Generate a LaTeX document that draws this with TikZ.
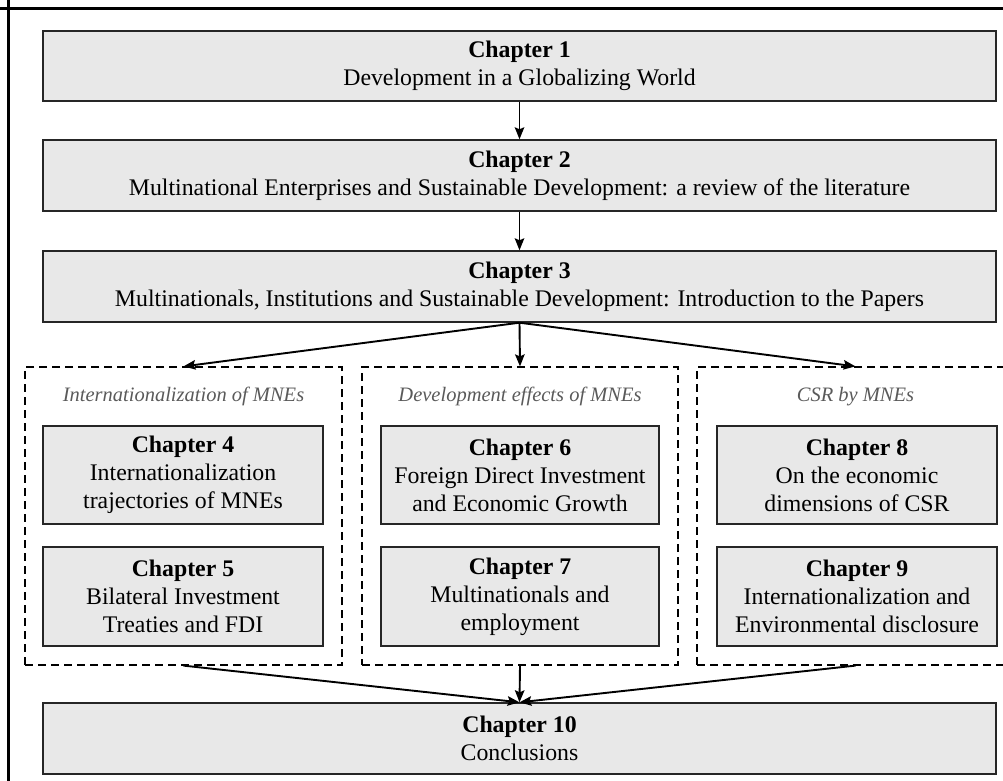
\documentclass[tikz,border=0pt]{standalone}
\usepackage{fontspec}
\setmainfont{Liberation Serif}
\usetikzlibrary{arrows.meta,shadows}
\definecolor{boxfill}{HTML}{E8E8E8}
\definecolor{boxline}{HTML}{262626}
\definecolor{grouptitle}{HTML}{5A5A5A}
\tikzset{
  chapbox/.style={draw=boxline, line width=1.4pt, fill=boxfill, align=center,
    inner sep=0pt, font=\fontsize{23.8}{28}\selectfont,
    drop shadow={shadow xshift=1.3pt, shadow yshift=-1.3pt, fill=black!45, opacity=1}},
  groupbox/.style={draw=black, line width=1.2pt, dash pattern=on 8pt off 5pt, inner sep=0pt},
  grouptitle/.style={text=grouptitle, anchor=base, inner sep=0pt,
    font=\fontsize{20.5}{24}\selectfont\itshape},
  arr/.style={line width=1.9pt, -{Stealth[length=12pt,width=9.5pt,inset=2pt]}},
  frame/.style={line width=3.6pt, black}
}
\begin{document}
\begin{tikzpicture}[x=1pt, y=-1pt]
\useasboundingbox (0,0) rectangle (1003,781);

% outer frame (left and top edges)
\draw[frame] (8.6,0) -- (8.6,781);
\draw[frame] (0,8.6) -- (1003,8.6);

% dashed groups
\node[groupbox, minimum width=317pt, minimum height=298pt] (g1) at (183.5,516) {};
\node[groupbox, minimum width=316pt, minimum height=298pt] (g2) at (520,516) {};
\node[groupbox, minimum width=317pt, minimum height=298pt] (g3) at (855.5,516) {};

\node[grouptitle] (t1) at (183.5,401) {Internationalization of MNEs};
\node[grouptitle] (t2) at (520,401) {Development effects of MNEs};
\node[grouptitle] (t3) at (855.5,401) {CSR by MNEs};

% main chain
\node[chapbox, minimum width=953pt, minimum height=70pt] (c1) at (519.5,66)
  {\textbf{Chapter 1}\\Development in a Globalizing World};
\node[chapbox, minimum width=953pt, minimum height=71pt] (c2) at (519.5,175.5)
  {\textbf{Chapter 2}\\Multinational Enterprises and Sustainable Development: a review of the literature};
\node[chapbox, minimum width=953pt, minimum height=71pt] (c3) at (519.5,286.5)
  {\textbf{Chapter 3}\\Multinationals, Institutions and Sustainable Development: Introduction to the Papers};

% chapters inside the groups
\node[chapbox, minimum width=280pt, minimum height=98pt] (c4) at (183,475)
  {\textbf{Chapter 4}\\Internationalization\\trajectories of MNEs};
\node[chapbox, minimum width=280pt, minimum height=99pt] (c5) at (183,596.5)
  {\textbf{Chapter 5}\\Bilateral Investment\\Treaties and FDI};
\node[chapbox, minimum width=278pt, minimum height=98pt] (c6) at (520,475)
  {\textbf{Chapter 6}\\Foreign Direct Investment\\and Economic Growth};
\node[chapbox, minimum width=278pt, minimum height=99pt] (c7) at (520,596.5)
  {\textbf{Chapter 7}\\Multinationals and\\employment};
\node[chapbox, minimum width=280pt, minimum height=98pt] (c8) at (857,475)
  {\textbf{Chapter 8}\\On the economic\\dimensions of CSR};
\node[chapbox, minimum width=280pt, minimum height=99pt] (c9) at (857,596.5)
  {\textbf{Chapter 9}\\Internationalization and\\Environmental disclosure};

\node[chapbox, minimum width=953pt, minimum height=71pt] (c10) at (519.5,738.5)
  {\textbf{Chapter 10}\\Conclusions};

% connectors
\draw[arr] (c1.south) -- (c2.north);
\draw[arr] (c2.south) -- (c3.north);
\draw[arr] (c3.south) -- (g1.north);
\draw[arr] (c3.south) -- (g2.north);
\draw[arr] (c3.south) -- (g3.north);
\draw[arr] (g1.south) -- (c10.north);
\draw[arr] (g2.south) -- (c10.north);
\draw[arr] (g3.south) -- (c10.north);
\end{tikzpicture}
\end{document}
